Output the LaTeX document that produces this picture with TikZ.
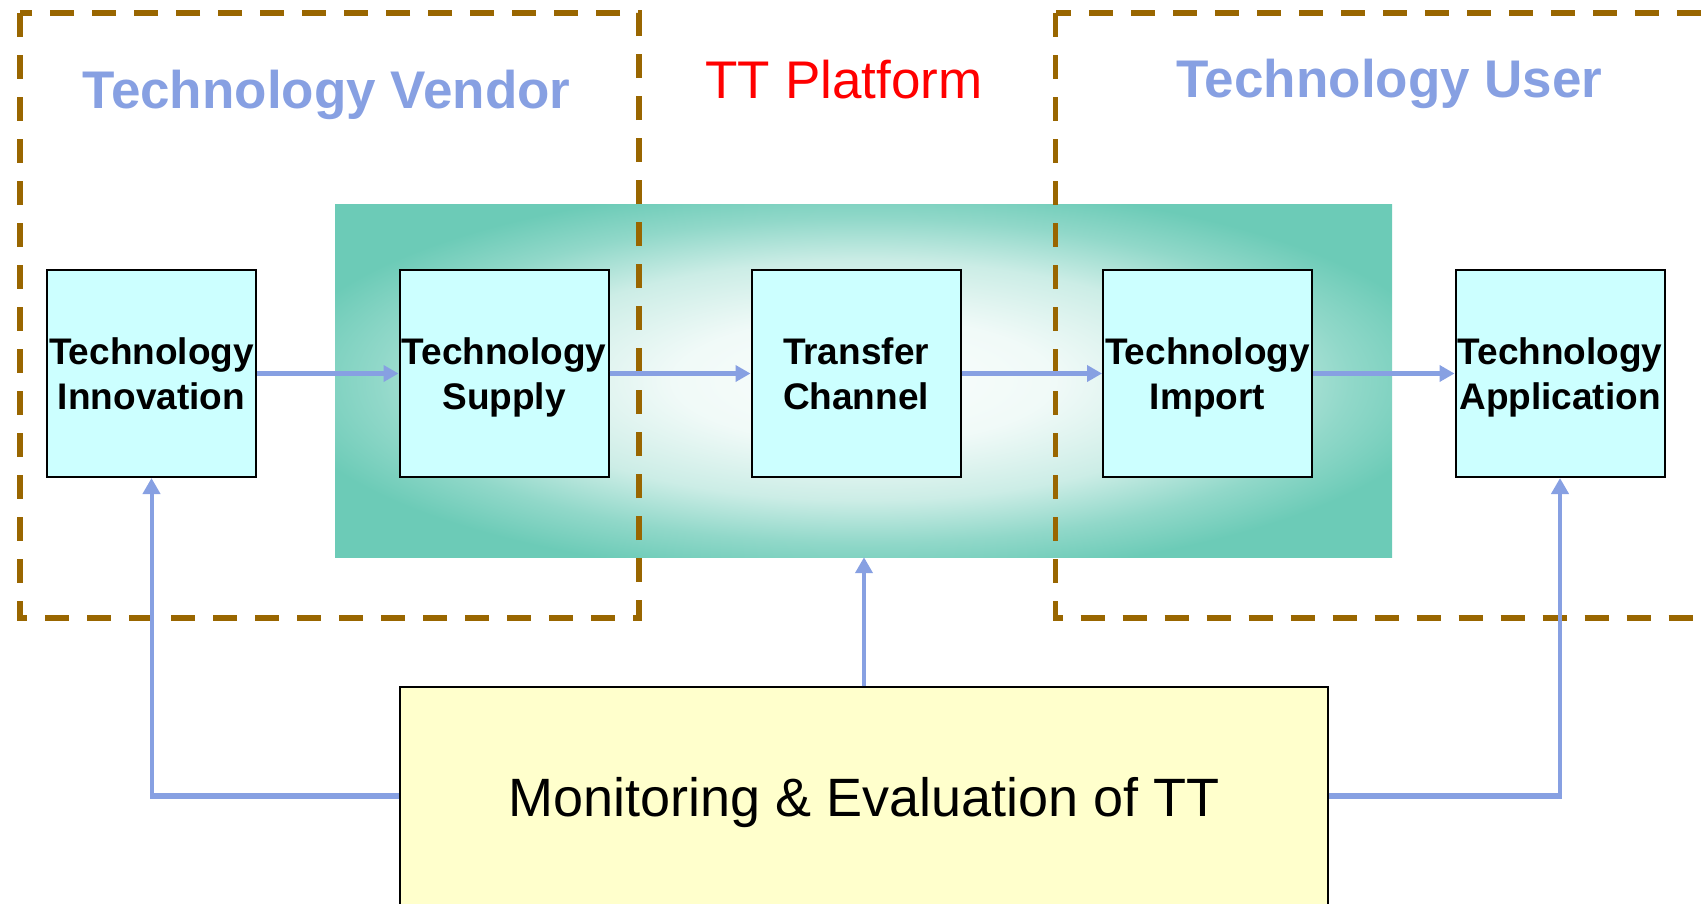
\documentclass[tikz,border=0pt]{standalone}
\usepackage{fontspec}
\setmainfont{Liberation Sans}
\usetikzlibrary{arrows.meta, calc}

\definecolor{zonebrown}{RGB}{153,102,0}
\definecolor{linkblue}{RGB}{135,160,226}
\definecolor{stagecyan}{RGB}{204,255,255}
\definecolor{monyellow}{RGB}{255,255,204}
\definecolor{platteal}{RGB}{108,203,183}
\colorlet{glowA}{platteal!3!white}
\colorlet{glowB}{platteal!10!white}
\colorlet{glowC}{platteal!35!white}
\colorlet{glowD}{platteal!75!white}
\pgfdeclareradialshading{platformglow}{\pgfpointorigin}{color(0bp)=(glowA); color(9bp)=(glowB); color(17bp)=(glowC); color(23bp)=(glowD); color(28bp)=(platteal); color(50bp)=(platteal)}

\begin{document}
\begin{tikzpicture}[x=1pt, y=-1pt,
	stage/.style={draw, line width=2pt, fill=stagecyan, minimum width=209pt, minimum height=207pt, text width=209pt, text depth=45pt, align=center, inner sep=0pt, font=\fontsize{37}{45}\selectfont\bfseries},
	zone/.style={draw=zonebrown, line width=5.5pt, dash pattern=on 24pt off 18pt},
	link/.style={draw=linkblue, line width=5pt, -{Triangle[length=15pt, width=16pt]}},
	uplink/.style={draw=linkblue, line width=4pt, -{Triangle[length=16pt, width=17pt]}},
	head/.style={anchor=base, font=\fontsize{53}{60}\selectfont}]
	\useasboundingbox (0,0) rectangle (1708,903);
	\clip (0,0) rectangle (1708,903);
	% platform background
	\node [shading=platformglow, minimum width=1057pt, minimum height=353pt, inner sep=0pt] (pf) at (863.5,380.5) {};
	% vendor and user zones
	\draw [zone] (20,13) rectangle (639,618);
	\draw [zone] (1055.5,13) rectangle (1760,618);
	\node [head, text=linkblue, font=\fontsize{53}{60}\selectfont\bfseries] (vendor) at (326.5,108) {Technology Vendor};
	\node [head, text=red] (ttp) at (844,98) {TT Platform};
	\node [head, text=linkblue, font=\fontsize{53}{60}\selectfont\bfseries] (user) at (1389.5,97.5) {Technology User};
	% stages
	\node [stage] (inno) at (151.5,373.5) {Technology\\Innovation};
	\node [stage] (supply) at (504,373.5) {Technology\\Supply};
	\node [stage] (channel) at (856,373.5) {Transfer\\Channel};
	\node [stage] (import) at (1207.5,373.5) {Technology\\Import};
	\node [stage] (appl) at (1560,373.5) {Technology\\Application};
	\draw [link] (inno) -- (supply);
	\draw [link] (supply) -- (channel);
	\draw [link] (channel) -- (import);
	\draw [link] (import) -- (appl);
	% monitoring and feedback
	\node [draw, line width=1.5pt, fill=monyellow, minimum width=928pt, minimum height=232pt, inner sep=0pt, font=\fontsize{54}{60}\selectfont] (mon) at (864,803) {Monitoring \& Evaluation of TT};
	\coordinate (fbL) at (151.5,795.5);
	\coordinate (fbR) at (1560,795.5);
	\draw [draw=linkblue, line width=6pt] (fbL -| mon.west) -- ([xshift=-2pt]fbL);
	\draw [draw=linkblue, line width=6pt] (fbR -| mon.east) -- ([xshift=2pt]fbR);
	\draw [uplink] ([yshift=3pt]fbL) -- (inno.south);
	\draw [uplink] ([yshift=3pt]fbR) -- (appl.south);
	\draw [uplink] (mon.north) -- (mon.north |- pf.south);
\end{tikzpicture}
\end{document}
